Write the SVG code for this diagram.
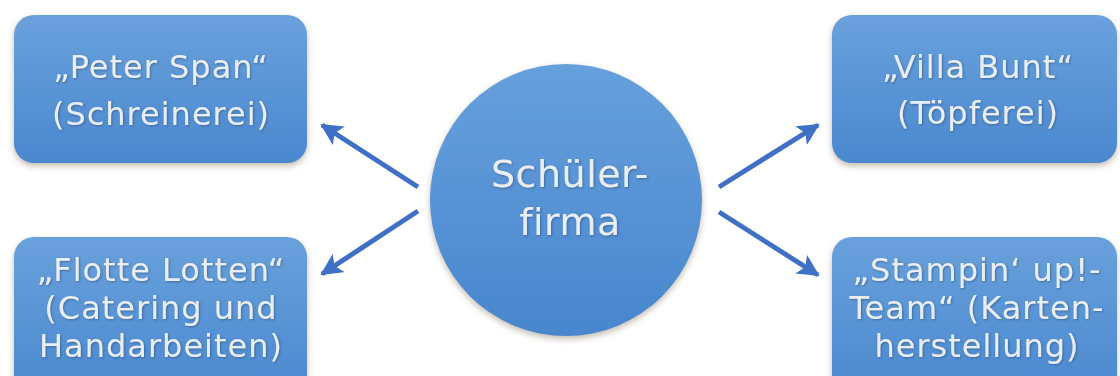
<svg xmlns="http://www.w3.org/2000/svg" width="1120" height="376" viewBox="0 0 1120 376">
  <defs>
    <linearGradient id="boxGrad" x1="0" y1="0" x2="0" y2="1">
      <stop offset="0" stop-color="#69a1dc"/>
      <stop offset="1" stop-color="#4a88cf"/>
    </linearGradient>
    <linearGradient id="circGrad" x1="0" y1="0" x2="0" y2="1">
      <stop offset="0" stop-color="#66a0dc"/>
      <stop offset="1" stop-color="#4886ce"/>
    </linearGradient>
    <filter id="shadow" x="-20%" y="-20%" width="140%" height="150%">
      <feDropShadow dx="0" dy="3" stdDeviation="3" flood-color="#7a6a50" flood-opacity="0.45"/>
    </filter>
    <filter id="tshadow" x="-10%" y="-20%" width="120%" height="150%">
      <feDropShadow dx="1" dy="1" stdDeviation="0.8" flood-color="#1f3f66" flood-opacity="0.5"/>
    </filter>
    <marker id="arrow" markerUnits="userSpaceOnUse" markerWidth="26" markerHeight="22" refX="20" refY="11" orient="auto">
      <path d="M0,0 L22,11 L0,22 L5,11 Z" fill="#4070c6"/>
    </marker>
    <style>
      .box { fill: url(#boxGrad); filter: url(#shadow); }
      .circ { fill: url(#circGrad); filter: url(#shadow); }
      .lbl { font-family: "DejaVu Sans", "Liberation Sans", sans-serif; font-size: 32px; letter-spacing: 1px; fill: #e9eef3; text-anchor: middle; filter: url(#tshadow); }
      .clbl { font-family: "DejaVu Sans", "Liberation Sans", sans-serif; font-size: 38px; letter-spacing: 0.5px; fill: #e9eef3; text-anchor: middle; filter: url(#tshadow); }
      .conn { stroke: #4070c6; stroke-width: 5; fill: none; marker-end: url(#arrow); }
    </style>
  </defs>
  <rect width="1120" height="376" fill="#ffffff"/>

  <g id="connectors">
    <line class="conn" x1="418" y1="187" x2="322" y2="125"/>
    <line class="conn" x1="418" y1="211" x2="322" y2="274"/>
    <line class="conn" x1="719" y1="187" x2="818" y2="125"/>
    <line class="conn" x1="719" y1="212" x2="818" y2="275"/>
  </g>

  <g id="center">
    <circle class="circ" cx="566" cy="200" r="136"/>
    <text class="clbl"><tspan x="570" y="187">Schüler-</tspan><tspan x="570" y="235">firma</tspan></text>
  </g>

  <g id="peter-span">
    <rect class="box" x="14" y="15" width="293" height="148" rx="20"/>
    <text class="lbl"><tspan x="161" y="78">„Peter Span“</tspan><tspan x="161" y="125">(Schreinerei)</tspan></text>
  </g>

  <g id="flotte-lotten">
    <rect class="box" x="14" y="237" width="293" height="160" rx="20"/>
    <text class="lbl"><tspan x="161" y="281">„Flotte Lotten“</tspan><tspan x="161" y="319">(Catering und</tspan><tspan x="161" y="357">Handarbeiten)</tspan></text>
  </g>

  <g id="villa-bunt">
    <rect class="box" x="832" y="15" width="285" height="148" rx="20"/>
    <text class="lbl"><tspan x="978" y="78">„Villa Bunt“</tspan><tspan x="978" y="124">(Töpferei)</tspan></text>
  </g>

  <g id="stampin-up">
    <rect class="box" x="832" y="237" width="285" height="160" rx="20"/>
    <text class="lbl"><tspan x="977" y="281">„Stampin‘ up!-</tspan><tspan x="977" y="319">Team“ (Karten-</tspan><tspan x="977" y="357">herstellung)</tspan></text>
  </g>
</svg>
